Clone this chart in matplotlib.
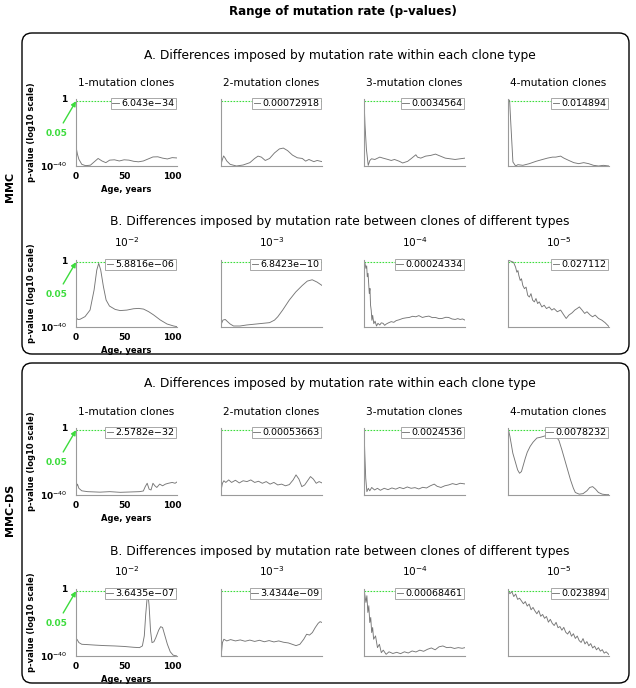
import numpy as np
import matplotlib.pyplot as plt
from matplotlib.patches import FancyBboxPatch

plt.rcParams['font.family'] = 'DejaVu Sans'

# ---- data: age (years) and log10 p-value ----
mmc_a1_age = [0, 0.5, 1.5, 3, 6, 10, 15, 19, 23, 27, 31, 35, 40, 45, 50, 55, 60, 65, 70, 75, 80, 85, 90, 95, 100, 105]
mmc_a1_logp = [0, -30, -33, -36, -39, -39.8, -39.5, -37.5, -35.5, -37, -38, -36.5, -36.3, -37, -36.3, -36.5, -37.2,
               -37.5, -37, -35.8, -34.6, -34.5, -35.3, -35.8, -35, -35.2]
mmc_a2_age = [0, 0.5, 1.5, 2.7, 4, 6, 9.5, 16, 23, 30, 35, 38.5, 42, 46, 50.5, 55.6, 60.7, 64.8, 69.2, 74.3, 79.4,
              84.5, 88, 91.4, 96.5, 100, 105]
mmc_a2_logp = [0, -38, -36, -34, -35, -37, -39, -40, -39.4, -38, -35.5, -34.1, -34.7, -36.7, -35.5, -32.2, -29.8,
               -29.3, -30.8, -33.5, -35.1, -35.5, -37.1, -36.1, -37.4, -36.7, -37.4]
mmc_a3_age = [0, 1, 2.5, 4.4, 6.1, 7.8, 11.3, 16.4, 19.8, 24.9, 28.3, 31.7, 36.8, 40.2, 45.4, 48.8, 53.9, 55.6, 59,
              64.1, 69.2, 74.3, 79.4, 84.5, 89.6, 94.7, 99.8, 105]
mmc_a3_logp = [0, -15, -30, -39.6, -36.7, -35.7, -36.1, -34.7, -35.3, -36.1, -36.7, -36.1, -37.2, -38.2, -37.2, -35.7,
               -33.3, -34.7, -35.3, -34.1, -33.7, -32.9, -34.1, -35.3, -35.7, -36.1, -35.7, -35.3]
mmc_a4_age = [0, 1.7, 2.7, 5.1, 7.9, 10.3, 15.4, 22.2, 29.1, 35.9, 41, 46.2, 49.6, 54.7, 58.1, 63.3, 68.4, 73.5, 78.7,
              83.8, 88.9, 94.1, 99.2, 105]
mmc_a4_logp = [0, -1, -12.2, -37.6, -40, -39.2, -39.6, -38.6, -37.2, -36.1, -35.3, -34.7, -34.7, -34.1, -35.3, -36.7,
               -38, -38.6, -38, -38.6, -39.6, -40, -39.6, -40]

mmc_b1_age = [0, 0.7, 2, 4.2, 9.4, 14.6, 18.8, 21.6, 23.6, 25.7, 28.5, 31.3, 34.8, 40.7, 45.9, 52.9, 59.8, 65, 70.2,
              75.4, 80.7, 87.6, 94.6, 101.5, 105]
mmc_b1_logp = [-36.5, -34.8, -35.5, -35.4, -33.8, -29.9, -17.9, -6, -2, -6, -15.9, -23.9, -27.5, -29.5, -30.2, -29.9,
               -29.1, -28.9, -29.3, -30.8, -32.8, -35.8, -38.2, -39.4, -39.8]
mmc_b2_age = [0, 0.5, 1.2, 2, 4.4, 6.8, 9.5, 13, 19.8, 26.6, 36.8, 43.6, 50.5, 55.6, 59, 64.1, 70.9, 77.7, 84.5, 89.7,
              94.8, 99.9, 105]
mmc_b2_logp = [0, -38, -37, -35.9, -35.5, -36.8, -38.2, -39.4, -39.4, -38.8, -38.2, -37.8, -37.4, -35.9, -33.9, -29.9,
               -24, -19.1, -15.2, -12.6, -11.8, -13.2, -15.2]
mmc_b3_age = [0, 1, 2, 2.8, 3.4, 4.2, 5.5, 6.2, 6.8, 7.5, 8.2, 9, 10.2, 11.5, 13, 14.5, 16.4, 18, 19.8, 21.5, 23.2,
              25.5, 28.3, 31, 33.4, 37, 40.2, 44, 47.1, 50.5, 53.9, 57, 60.7, 64, 67.5, 71, 74.3, 78, 81.2, 85, 88,
              91.5, 94.8, 97.5, 99.9, 102.5, 105]
mmc_b3_logp = [0, -2, -5, -3.5, -10, -8, -20, -17, -27, -30, -36, -33, -38, -36.5, -39.4, -37.8, -38.8, -37.5, -37.8,
               -39, -38.2, -37.5, -36.8, -37.2, -36.2, -35.6, -34.9, -34.5, -34.3, -33.6, -33.9, -33.2, -34.3, -33.8,
               -33.5, -34.4, -34.3, -35, -34.9, -34.2, -34.3, -35.2, -35.5, -35, -35.5, -35.2, -35.9]
mmc_b4_age = [0, 1, 3.4, 5.8, 7.9, 9.2, 10.3, 11.3, 12.7, 14, 15.4, 17.1, 18.8, 20.5, 22.2, 23.9, 25.6, 27.4, 29.1,
              30.8, 32.5, 35.2, 37.6, 40, 42.8, 45.5, 47.9, 51.3, 54.7, 58.1, 60.5, 63.3, 66.7, 69.4, 71.8, 74.2, 77,
              79.7, 82.1, 85.5, 87.9, 90.6, 94.1, 97.5, 100.9, 105]
mmc_b4_logp = [-0.2, -0.3, -0.8, -1.4, -4.3, -7.3, -6.3, -9.3, -12.2, -11.2, -15.2, -17.1, -16.2, -21.1, -22.1, -20.1,
               -24, -25, -23, -26, -25, -28, -27, -29, -28, -29.9, -29, -30.9, -29.9, -32.9, -34.9, -32.9, -31.5,
               -29.9, -29, -28, -29.9, -31.9, -30.9, -32.9, -33.9, -32.9, -34.9, -35.9, -37.4, -39.8]

ds_a1_age = [0, 0.5, 1.5, 3, 6, 12, 25, 35, 46, 56, 66, 70, 72, 74, 76, 78, 80, 82, 84, 87, 90, 93, 96, 100, 103, 105]
ds_a1_logp = [0, -35, -33.5, -36, -37.5, -38, -38.3, -38, -38.4, -38.2, -38, -37.6, -35, -33, -36.5, -37, -33, -34.5,
              -35.5, -33.5, -34.5, -33.5, -33, -32.5, -33, -32.2]
ds_a2_age = [0, 0.5, 1.5, 3, 5, 8, 11, 15, 19, 23, 27, 31, 35, 39, 43, 47, 51, 55, 59, 63, 67, 71, 75, 78, 81, 84, 87,
             90, 93, 96, 99, 102, 105]
ds_a2_logp = [0, -36, -33, -31.5, -32.5, -31, -32.5, -31.2, -32.8, -31.5, -32, -31, -32.5, -31.8, -33, -32, -33.5,
              -32.5, -34, -33.5, -34.5, -33.8, -31, -28, -30.5, -35, -34, -31.5, -29, -30.5, -33, -32, -32.8]
ds_a3_age = [0, 0.8, 1.8, 3, 4.5, 6, 8, 11, 14, 17, 21, 25, 29, 33, 37, 41, 45, 49, 53, 57, 61, 65, 69, 73, 76, 80,
             84, 88, 92, 96, 100, 105]
ds_a3_logp = [0, -15, -30, -38, -36, -37.5, -35.5, -37, -36, -37.2, -36, -36.8, -35.8, -36.5, -35.5, -36.2, -35.2,
              -36, -35.6, -36.4, -35.4, -35.8, -34.5, -33.5, -34.8, -35.5, -34.5, -34, -33.2, -33.8, -33, -33.4]
ds_a4_age = [0, 2, 5, 8, 10, 12, 14, 16, 18, 20, 23, 26, 30, 34, 38, 42, 46, 50, 53, 56, 59, 62, 65, 68, 70, 74, 78,
             82, 85, 88, 91, 94, 98, 102, 105]
ds_a4_logp = [0, -5, -15, -21, -25, -27, -26, -22, -18, -14.5, -11, -8.5, -6, -5.5, -4.8, -4.2, -3.8, -5, -7.5, -13,
              -19, -25, -31, -36, -38.5, -39.5, -39.2, -37.5, -35.5, -35, -36.5, -38.5, -39.5, -39.8, -39.8]

ds_b1_age = [0, 1, 3, 6, 12, 20, 30, 40, 50, 60, 66, 69, 71, 72.5, 74, 75, 76, 77.5, 79, 81, 83, 86, 88, 90, 92, 95,
             98, 101, 105]
ds_b1_logp = [-31, -30, -32, -33, -33.2, -33.5, -33.8, -34, -34.3, -34.8, -35, -34, -28, -15, -5, -4, -10, -25, -32,
              -31.5, -29, -24.5, -22.5, -23, -27, -33, -37.5, -39.5, -40]
ds_b2_age = [0, 0.5, 1.5, 3, 6, 10, 15, 20, 25, 30, 35, 40, 45, 50, 55, 60, 65, 70, 74, 78, 82, 86, 89, 92, 95, 98,
             101, 103, 105]
ds_b2_logp = [0, -38, -32, -30, -31, -30.2, -31, -30.4, -31.2, -30.5, -31.3, -30.6, -31.5, -30.8, -31.6, -31, -31.8,
              -32.2, -33, -33.8, -33, -30, -27, -27.5, -26, -23, -20.5, -19.5, -20]
ds_b3_age = [0, 2, 3, 4, 5, 6, 7, 8, 9, 10, 12, 14, 16, 18, 20, 23, 26, 30, 34, 38, 42, 46, 50, 54, 58, 62, 66, 70,
             74, 78, 82, 86, 90, 94, 98, 102, 105]
ds_b3_logp = [0, -8, -4, -14, -10, -20, -17, -26, -23, -30, -28, -35, -33, -38, -36.5, -39, -37.5, -38.5, -37.8,
              -38.6, -37.5, -38.2, -37, -37.6, -36.5, -37.2, -36, -35.2, -36.3, -34.5, -34, -35, -34.8, -35.5, -35,
              -35.4, -35]
ds_b4_age = [0, 2, 4, 6, 8, 10, 12, 14, 16, 18, 20, 22, 24, 26, 28, 30, 32, 34, 36, 38, 40, 42, 44, 46, 48, 50, 52,
             54, 56, 58, 60, 62, 64, 66, 68, 70, 72, 74, 76, 78, 80, 82, 84, 86, 88, 90, 92, 94, 96, 98, 100, 102, 105]
ds_b4_logp = [-1, -2.8, -1.6, -4.5, -3, -6.2, -5.5, -7.1, -8.8, -7.5, -10.2, -9, -12.4, -11, -13.1, -14.8, -12.9,
              -16.3, -15.2, -17.5, -16.4, -19.8, -18.1, -20.5, -21.8, -19.9, -23.1, -22.4, -24.6, -22.9, -25.8, -26.9,
              -25.1, -28.2, -26.7, -29.5, -28.1, -30.8, -31.9, -29.6, -32.8, -31.4, -33.9, -32.6, -35.2, -34.1, -36.3,
              -35, -37.1, -36.2, -38.3, -37.5, -39.2]

# legend values (p-values shown in each panel)
mmc_a_pvals = ['6.043e\u221234', '0.00072918', '0.0034564', '0.014894']
mmc_b_pvals = ['5.8816e\u221206', '6.8423e\u221210', '0.00024334', '0.027112']
ds_a_pvals = ['2.5782e\u221232', '0.00053663', '0.0024536', '0.0078232']
ds_b_pvals = ['3.6435e\u221207', '3.4344e\u221209', '0.00068461', '0.023894']

a_titles = ['1-mutation clones', '2-mutation clones', '3-mutation clones', '4-mutation clones']
b_titles = [r'$10^{-2}$', r'$10^{-3}$', r'$10^{-4}$', r'$10^{-5}$']

# ---- layout (pixels, top-left origin) ----
W, H = 636, 688
fig = plt.figure(figsize=(W / 100, H / 100), dpi=100)

GREEN = '#3ddc3d'
LINE = '#767676'
SPINE = '#9a9a9a'
col_left = [76, 221, 364, 508]
AW, AH = 101, 67


def fx(x):
    return x / W


def fy(y):
    return 1 - y / H


def panel(x, y, age, logp, pval, first):
    ax = fig.add_axes([fx(x), fy(y + AH), AW / W, AH / H])
    ax.set_yscale('log')
    ax.axhline(0.05, color=GREEN, ls=(0, (1.5, 1.2)), lw=0.8, zorder=1)
    ln, = ax.plot(age, 10.0 ** np.array(logp), color=LINE, lw=0.65, zorder=2)
    ax.set_xlim(0, 105)
    ax.set_ylim(1e-40, 1)
    for s in ['top', 'right']:
        ax.spines[s].set_visible(False)
    for s in ['left', 'bottom']:
        ax.spines[s].set_color(SPINE)
        ax.spines[s].set_linewidth(0.8)
    ax.minorticks_off()
    if first:
        ax.set_xticks([0, 50, 100])
        ax.set_yticks([1e-40, 1])
        ax.set_yticklabels([r'$\mathbf{10}^{-40}$', '1'])
        ax.tick_params(axis='y', length=0, labelsize=6.5, pad=6)
        ax.tick_params(axis='x', length=0, labelsize=6.5, pad=4)
        for t in ax.get_xticklabels() + ax.get_yticklabels():
            t.set_fontweight('bold')
        ax.set_xlabel('Age, years', fontsize=6, fontweight='bold')
        ax.xaxis.set_label_coords(0.5, -0.29)
        ax.set_ylabel('p-value (log10 scale)', fontsize=6, fontweight='bold')
        ax.yaxis.set_label_coords(-0.40, 0.5)
        ax.annotate('0.05', xy=(0, 0.05), xycoords='data', xytext=(-0.19, 0.48),
                    textcoords='axes fraction', color=GREEN, fontsize=6.5, fontweight='bold',
                    ha='center', va='center', annotation_clip=False,
                    arrowprops=dict(arrowstyle='-|>', color=GREEN, lw=1.0, mutation_scale=7,
                                    shrinkA=3, shrinkB=0))
    else:
        ax.tick_params(which='both', left=False, bottom=False, labelleft=False, labelbottom=False)
    leg = ax.legend([ln], [pval], loc='upper right', bbox_to_anchor=(0.99, 1.02), fontsize=6.8,
                    frameon=True, fancybox=False, borderpad=0.15, handlelength=0.7,
                    handletextpad=0.25, borderaxespad=0.0, framealpha=1)
    leg.get_frame().set_edgecolor(SPINE)
    leg.get_frame().set_linewidth(0.6)
    return ax


rows = [
    (99, [mmc_a1_age, mmc_a2_age, mmc_a3_age, mmc_a4_age], [mmc_a1_logp, mmc_a2_logp, mmc_a3_logp, mmc_a4_logp],
     mmc_a_pvals, a_titles, 83, 55, 'A. Differences imposed by mutation rate within each clone type'),
    (260, [mmc_b1_age, mmc_b2_age, mmc_b3_age, mmc_b4_age], [mmc_b1_logp, mmc_b2_logp, mmc_b3_logp, mmc_b4_logp],
     mmc_b_pvals, b_titles, 242, 222, 'B. Differences imposed by mutation rate between clones of different types'),
    (428, [ds_a1_age, ds_a2_age, ds_a3_age, ds_a4_age], [ds_a1_logp, ds_a2_logp, ds_a3_logp, ds_a4_logp],
     ds_a_pvals, a_titles, 412, 384, 'A. Differences imposed by mutation rate within each clone type'),
    (589, [ds_b1_age, ds_b2_age, ds_b3_age, ds_b4_age], [ds_b1_logp, ds_b2_logp, ds_b3_logp, ds_b4_logp],
     ds_b_pvals, b_titles, 571, 551, 'B. Differences imposed by mutation rate between clones of different types'),
]

for top, ages, logps, pvals, titles, ty, sy, stitle in rows:
    fig.text(fx(340), fy(sy), stitle, ha='center', va='center', fontsize=8.8)
    for i in range(4):
        panel(col_left[i], top, ages[i], logps[i], pvals[i], i == 0)
        fig.text(fx(col_left[i] + AW / 2), fy(ty), titles[i], ha='center', va='center', fontsize=7.6)

# rounded frames around the two model blocks
for y0, y1 in [(33, 354), (363, 683)]:
    box = FancyBboxPatch((22 / 100, (H - y1) / 100), (629 - 22) / 100, (y1 - y0) / 100,
                         boxstyle='round,pad=0,rounding_size=0.1', transform=fig.dpi_scale_trans,
                         facecolor='none', edgecolor='black', lw=1.0)
    fig.add_artist(box)

fig.text(fx(10), fy(187), 'MMC', rotation=90, ha='center', va='center', fontsize=8, fontweight='bold')
fig.text(fx(10), fy(510), 'MMC-DS', rotation=90, ha='center', va='center', fontsize=8, fontweight='bold')
fig.text(fx(343), fy(11), 'Range of mutation rate (p-values)', ha='center', va='center',
         fontsize=8.6, fontweight='bold')

fig.savefig('out.png', dpi=100)
